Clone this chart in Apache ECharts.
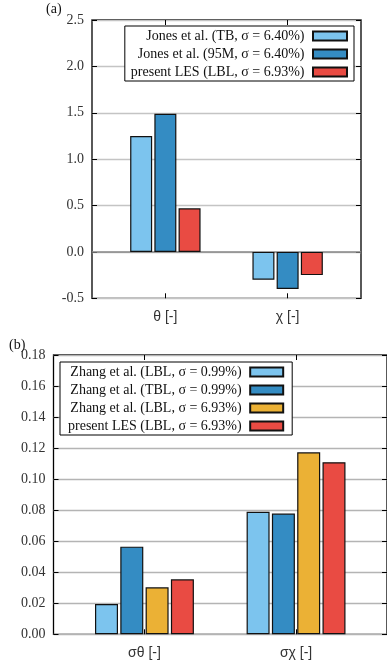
<!DOCTYPE html>
<html>
<head>
<meta charset="utf-8">
<script src="https://cdn.jsdelivr.net/npm/echarts@6/dist/echarts.min.js"></script>
<style>
  html, body { margin: 0; padding: 0; background: #fff; }
  #chart { width: 387px; height: 664px; }
</style>
</head>
<body>
<div id="chart"></div>
<script>
// Panel (a): mean values
const catsA = ['θ [-]', 'χ [-]'];
const jonesTB = [1.25, -0.30];
const jones95M = [1.49, -0.40];
const lesA = [0.47, -0.25];
const namesA = ['Jones et al. (TB, σ = 6.40%)', 'Jones et al. (95M, σ = 6.40%)', 'present LES (LBL, σ = 6.93%)'];
const ticksA = [-0.5, 0.0, 0.5, 1.0, 1.5, 2.0, 2.5];

// Panel (b): standard deviations
const catsB = ['σθ [-]', 'σχ [-]'];
const zhangLBL099 = [0.0195, 0.0790];
const zhangTBL099 = [0.0565, 0.0778];
const zhangLBL693 = [0.0303, 0.1173];
const lesB = [0.0354, 0.1109];
const namesB = ['Zhang et al. (LBL, σ = 0.99%)', 'Zhang et al. (TBL, σ = 0.99%)', 'Zhang et al. (LBL, σ = 6.93%)', 'present LES (LBL, σ = 6.93%)'];
const ticksB = [0.00, 0.02, 0.04, 0.06, 0.08, 0.10, 0.12, 0.14, 0.16, 0.18];

const LIGHT = '#7cc4ee', DARK = '#348cc3', YELLOW = '#ebb135', RED = '#e94b43';
const SERIF = '"Liberation Serif", "DejaVu Serif", serif';
const SANS = '"Liberation Sans", "DejaVu Sans", sans-serif';

const pairs = (vals) => vals.map((v, i) => [i, v]);

function barSeries(name, vals, color, xi, width) {
  return {
    type: 'bar', name: name, xAxisIndex: xi, yAxisIndex: xi * 2,
    data: pairs(vals), barWidth: width, barGap: '10%',
    itemStyle: { color: color, borderColor: '#111', borderWidth: 1.2 },
    emphasis: { disabled: true }
  };
}

function xAxisFor(gridIndex, cats, pos) {
  return {
    type: 'value', gridIndex: gridIndex, min: -0.6, max: 1.6, position: pos,
    splitLine: { show: false },
    axisLine: { show: false, onZero: false },
    axisTick: { show: true, inside: true, length: 5, customValues: [0, 1], lineStyle: { color: '#000', width: 1 } },
    axisLabel: pos === 'bottom' ? {
      show: true, customValues: [0, 1], margin: 12,
      formatter: (v) => cats[Math.round(v)] || '',
      fontFamily: SANS, fontSize: 14, color: '#333'
    } : { show: false }
  };
}

function yAxisFor(gridIndex, ticks, digits, pos, gridColor) {
  const interval = +(ticks[1] - ticks[0]).toFixed(6);
  return {
    type: 'value', gridIndex: gridIndex, position: pos,
    min: ticks[0], max: ticks[ticks.length - 1], interval: interval,
    axisLine: { show: false, onZero: false },
    axisTick: { show: true, inside: true, length: 5, lineStyle: { color: '#000', width: 1 } },
    splitLine: pos === 'left' ? { show: true, lineStyle: { color: gridColor, width: 1.3 } } : { show: false },
    axisLabel: pos === 'left' ? {
      show: true, margin: 8, formatter: (v) => v.toFixed(digits),
      fontFamily: SERIF, fontSize: 14, color: '#333'
    } : { show: false }
  };
}

const option = {
  animation: false,
  backgroundColor: '#fff',
  grid: [
    { left: 92, top: 20, width: 269, height: 278.3, show: true, borderColor: '#000', borderWidth: 1.3, backgroundColor: 'transparent' },
    { left: 53.5, top: 355, width: 336.5, height: 279.3, show: true, borderColor: '#000', borderWidth: 1.3, backgroundColor: 'transparent' }
  ],
  xAxis: [
    xAxisFor(0, catsA, 'bottom'),
    xAxisFor(1, catsB, 'bottom'),
    xAxisFor(0, catsA, 'top'),
    xAxisFor(1, catsB, 'top')
  ],
  yAxis: [
    yAxisFor(0, ticksA, 1, 'left', '#c4c4c4'),
    yAxisFor(0, ticksA, 1, 'right', '#c4c4c4'),
    yAxisFor(1, ticksB, 2, 'left', '#b4b4b4'),
    yAxisFor(1, ticksB, 2, 'right', '#b4b4b4')
  ],
  legend: [
    {
      data: namesA.map((n) => ({ name: n, icon: 'rect' })),
      orient: 'vertical', align: 'right', right: 33, top: 26,
      itemWidth: 34, itemHeight: 9, itemGap: 4,
      padding: [3, 6, 2, 6],
      backgroundColor: '#fff', borderColor: '#000', borderWidth: 1,
      textStyle: { fontFamily: SERIF, fontSize: 14, color: '#111' },
      formatter: (n) => n + ' ',
      selectedMode: false
    },
    {
      data: namesB.map((n) => ({ name: n, icon: 'rect' })),
      orient: 'vertical', align: 'right', left: 60, top: 362,
      itemWidth: 33, itemHeight: 9, itemGap: 4,
      padding: [3, 8, 2, 8],
      backgroundColor: '#fff', borderColor: '#000', borderWidth: 1,
      textStyle: { fontFamily: SERIF, fontSize: 14, color: '#111' },
      formatter: (n) => n + ' ',
      selectedMode: false
    }
  ],
  graphic: [
    { type: 'text', left: 46, top: 2, style: { text: '(a)', font: '14px ' + SERIF, fill: '#111' } },
    { type: 'text', left: 9, top: 338, style: { text: '(b)', font: '14px ' + SERIF, fill: '#111' } }
  ],
  series: [
    Object.assign(barSeries(namesA[0], jonesTB, LIGHT, 0, 22), {
      markLine: {
        silent: true, symbol: 'none', label: { show: false },
        lineStyle: { color: '#888', width: 1.5, type: 'solid' },
        data: [{ yAxis: 0 }], z: 1
      }
    }),
    barSeries(namesA[1], jones95M, DARK, 0, 22),
    barSeries(namesA[2], lesA, RED, 0, 22),
    barSeries(namesB[0], zhangLBL099, LIGHT, 1, 23),
    barSeries(namesB[1], zhangTBL099, DARK, 1, 23),
    barSeries(namesB[2], zhangLBL693, YELLOW, 1, 23),
    barSeries(namesB[3], lesB, RED, 1, 23)
  ]
};

const chart = echarts.init(document.getElementById('chart'), null, { renderer: 'canvas' });
chart.setOption(option);
</script>
</body>
</html>
